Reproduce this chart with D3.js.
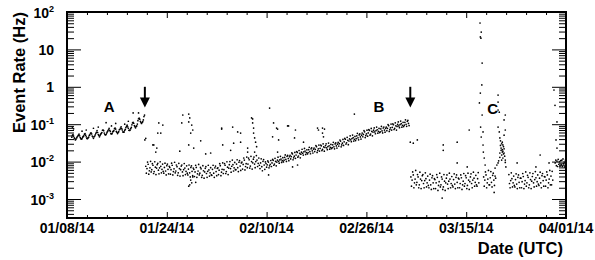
<!DOCTYPE html>
<html>
<head>
<meta charset="utf-8">
<script src="https://cdn.jsdelivr.net/npm/d3@7/dist/d3.min.js"></script>
<style>
  html, body { margin: 0; padding: 0; background: #fff; }
  svg { display: block; font-family: "Liberation Sans", Arial, Helvetica, sans-serif; font-weight: bold; }
</style>
</head>
<body>
<div id="chart"></div>
<script>
// time axis runs from 01/08/14 to 04/01/14 (UTC), days counted from the start
const START = Date.UTC(2014, 0, 8);
const END = Date.UTC(2014, 3, 1);
const STEP = 0.1; // days between samples in the continuous runs

const xTickLabels = ["01/08/14", "01/24/14", "02/10/14", "02/26/14", "03/15/14", "04/01/14"];
const yTickValues = [1e-3, 1e-2, 1e-1, 1, 10, 100];
const yTickLabels = ["10^-3", "10^-2", "10^-1", "1", "10", "10^2"];

// continuous runs: first day, then rates in Hz every STEP days
const bandAStart = 0.8;
const bandA = [
  0.045,0.050,0.053,0.048,0.043,0.041,0.038,0.040,0.043,0.046,
  0.048,0.051,0.054,0.049,0.044,0.041,0.040,0.041,0.045,0.047,
  0.049,0.054,0.056,0.051,0.046,0.042,0.041,0.043,0.045,0.050,
  0.052,0.057,0.059,0.055,0.048,0.046,0.042,0.046,0.048,0.052,
  0.057,0.061,0.067,0.060,0.053,0.050,0.046,0.050,0.054,0.057,
  0.060,0.069,0.070,0.067,0.058,0.053,0.052,0.053,0.058,0.062,
  0.066,0.071,0.077,0.069,0.064,0.056,0.055,0.056,0.062,0.065,
  0.067,0.076,0.079,0.074,0.064,0.061,0.056,0.060,0.063,0.071,
  0.073,0.079,0.085,0.076,0.070,0.062,0.061,0.062,0.069,0.073,
  0.081,0.088,0.094,0.085,0.078,0.069,0.068,0.070,0.076,0.082,
  0.096,0.108,0.112,0.106,0.092,0.086,0.080,0.087,0.090,0.101,
  0.124,0.140,0.145,0.136,0.119,0.111,0.105,0.112,0.117,0.130,
  0.160,0.175
];

const bandMidStart = 13.1;
const bandMid = [
  0.0075,0.0049,0.0065,0.0097,0.0085,0.0046,0.0057,0.0068,0.0102,0.0053,
  0.0061,0.0088,0.008,0.0048,0.0054,0.0099,0.0071,0.0045,0.0067,0.0083,
  0.009,0.0059,0.0047,0.0068,0.0099,0.0075,0.005,0.0062,0.0086,0.0055,
  0.0049,0.007,0.0091,0.0056,0.0044,0.0078,0.0086,0.0062,0.0047,0.0075,
  0.007,0.0046,0.0061,0.0091,0.008,0.0044,0.0054,0.0064,0.0096,0.005,
  0.0056,0.0081,0.0073,0.0043,0.005,0.009,0.0065,0.0041,0.0061,0.0076,
  0.0081,0.0053,0.0042,0.0061,0.0089,0.0067,0.0045,0.0055,0.0077,0.0049,
  0.0044,0.0063,0.0081,0.005,0.0039,0.007,0.0077,0.0055,0.0042,0.0067,
  0.0062,0.004,0.0053,0.008,0.007,0.0038,0.0047,0.0056,0.0084,0.0044,
  0.0049,0.007,0.0064,0.0038,0.0043,0.0078,0.0057,0.0036,0.0053,0.0066,
  0.0073,0.0048,0.0038,0.0055,0.008,0.006,0.0041,0.005,0.0069,0.0044,
  0.0043,0.0062,0.008,0.0049,0.0038,0.0068,0.0076,0.0054,0.0042,0.0066,
  0.0068,0.0045,0.0059,0.0088,0.0078,0.0042,0.0052,0.0062,0.0093,0.0048,
  0.0061,0.0088,0.008,0.0048,0.0054,0.0099,0.0071,0.0045,0.0067,0.0083,
  0.01,0.0065,0.0052,0.0075,0.011,0.0083,0.0056,0.0068,0.0095,0.0061,
  0.0061,0.0086,0.0112,0.0069,0.0054,0.0096,0.0106,0.0076,0.0058,0.0092,
  0.0097,0.0063,0.0084,0.0125,0.011,0.006,0.0074,0.0088,0.0132,0.0069,
  0.0086,0.0124,0.0112,0.0067,0.0076,0.0138,0.01,0.0063,0.0093,0.0116,
  0.0132,0.0086,0.0069,0.01,0.0145,0.011,0.0074,0.009,0.0125,0.008,
  0.0065,0.0092,0.0119,0.0073,0.0057,0.0102,0.0113,0.0081,0.0062,0.0098,
  0.0089,0.0071,0.0082,0.0104,0.0097,0.0068,0.0077,0.0085,0.0107,0.0074,
  0.0092,0.0114,0.0108,0.008,0.0086,0.0122,0.0101,0.0077,0.0097,0.011,
  0.0131,0.0102,0.0091,0.0111,0.0138,0.0117,0.0095,0.0106,0.0127,0.0098,
  0.0109,0.013,0.0151,0.0115,0.0101,0.0138,0.0146,0.0121,0.0106,0.0135,
  0.0147,0.0118,0.0136,0.0171,0.016,0.0112,0.0126,0.014,0.0176,0.0122,
  0.015,0.0186,0.0176,0.0131,0.0141,0.0198,0.0165,0.0126,0.0158,0.0179,
  0.0214,0.0167,0.0149,0.0182,0.0225,0.0191,0.0155,0.0173,0.0207,0.016,
  0.0174,0.0208,0.0242,0.0184,0.0162,0.022,0.0234,0.0194,0.017,0.0216,
  0.0231,0.0185,0.0213,0.0268,0.0251,0.0176,0.0198,0.022,0.0277,0.0191,
  0.0226,0.0278,0.0264,0.0197,0.0211,0.0298,0.0247,0.019,0.0238,0.0269,
  0.0298,0.0233,0.0208,0.0253,0.0313,0.0265,0.0215,0.024,0.0288,0.0223,
  0.0235,0.0281,0.0327,0.0248,0.0219,0.0297,0.0316,0.0262,0.023,0.0292,
  0.0326,0.026,0.0301,0.0378,0.0353,0.0248,0.0279,0.031,0.0391,0.027,
  0.0338,0.0418,0.0396,0.0295,0.0317,0.0446,0.0371,0.0284,0.0356,0.0403,
  0.0488,0.0381,0.034,0.0414,0.0513,0.0435,0.0353,0.0394,0.0472,0.0365,
  0.0409,0.0489,0.0569,0.0432,0.0381,0.0517,0.055,0.0456,0.04,0.0508,
  0.0578,0.0462,0.0534,0.0671,0.0627,0.044,0.0495,0.055,0.0693,0.0479,
  0.0583,0.0719,0.0682,0.0508,0.0546,0.0769,0.0639,0.049,0.0614,0.0694,
  0.0797,0.0623,0.0556,0.0677,0.0838,0.071,0.0576,0.0643,0.0771,0.0596,
  0.0626,0.0749,0.0871,0.0662,0.0583,0.0792,0.0842,0.0698,0.0612,0.0778,
  0.084,0.0672,0.0776,0.0976,0.0912,0.064,0.072,0.08,0.101,0.0696,
  0.0827,0.102,0.0968,0.0722,0.0774,0.109,0.0906,0.0695,0.0871,0.0986,
  0.115,0.0902,0.0805,0.098,0.121,0.103,0.0834,0.0931,0.112,0.0863,
  0.094,0.112,0.131,0.0994,0.0875,0.119,0.126,0.105,0.0918
];

const bandPostBStart = 57.2;
const bandPostB = [
  0.0039,0.0022,0.0032,0.0053,0.0044,0.002,0.0027,0.0034,0.0058,0.0024,
  0.0028,0.0045,0.0039,0.002,0.0024,0.0052,0.0034,0.0019,0.0031,0.0042,
  0.0045,0.0026,0.002,0.0031,0.005,0.0035,0.0021,0.0027,0.0041,0.0023,
  0.002,0.0032,0.0046,0.0024,0.0018,0.0037,0.0042,0.0027,0.0019,0.0035,
  0.0033,0.0019,0.0027,0.0045,0.0038,0.0017,0.0023,0.0029,0.0049,0.0021,
  0.0024,0.0039,0.0034,0.0018,0.0021,0.0045,0.003,0.0017,0.0027,0.0036,
  0.0044,0.0025,0.0019,0.003,0.0049,0.0034,0.002,0.0026,0.004,0.0023,
  0.0021,0.0033,0.0047,0.0025,0.0019,0.0038,0.0044,0.0028,0.002,0.0036,
  0.0034,0.002,0.0026,0.0044,0.0037,0.0018,0.0024,0.003,0.0048,0.0022,
  0.0026,0.0042,0.0037,0.0019,0.0023,0.0049,0.0032,0.0018,0.0029,0.0039,
  0.0047,0.0026,0.002,0.0032,0.0052,0.0036,0.0022,0.0028,0.0043,0.0024,
  0.0022,0.0035,0.0051,0.0027
];

const bandPreCStart = 69.3;
const bandPreC = [
  0.0039,0.0022,0.0032,0.0053,0.0044,0.002,0.0027,0.0034,0.0058,0.0024,
  0.0024,0.0037,0.0054,0.0028,0.0021,0.0043,0.0049,0.0032,0.0023,0.0041,
  0.0036
];

const bandPostCStart = 73.5;
const bandPostC = [
  0.0045,0.0026,0.002,0.0031,0.005,0.0035,0.0021,0.0027,0.0041,0.0023,
  0.0021,0.0033,0.0047,0.0025,0.0019,0.0038,0.0044,0.0028,0.002,0.0036,
  0.0036,0.002,0.0029,0.0048,0.004,0.0019,0.0025,0.0031,0.0053,0.0022,
  0.0027,0.0043,0.0038,0.002,0.0024,0.005,0.0033,0.0019,0.003,0.004,
  0.0048,0.0027,0.0021,0.0033,0.0054,0.0037,0.0022,0.0029,0.0044,0.0025,
  0.0023,0.0036,0.0052,0.0027,0.002,0.0042,0.0048,0.0031,0.0022,0.004,
  0.0039,0.0022,0.0032,0.0053,0.0044,0.002,0.0027,0.0034,0.0058,0.0024,
  0.0041,0.0024,0.0055,0.0032
];

const bandEndStart = 81.2;
const bandEnd = [
  0.0092,0.011,0.0078,0.0103,0.0074,0.0115,0.0085,0.0099,0.0075,0.0106,
  0.0083,0.0109,0.0074,0.0118,0.0087,0.0097,0.0072,0.011
];

// isolated points: [day, rate in Hz]
const spikePoints = [
  [68.7, 50.8], [68.9, 29], [68.75, 21.5], [68.85, 20], [69.05, 4.3], [69.0, 1.12],
  [68.75, 0.68], [68.6, 0.37], [69.05, 0.176], [68.8, 0.084], [68.9, 0.0455],
  [69.2, 0.062], [69.2, 0.0278], [69.25, 0.018], [69.4, 0.0125], [69.55, 0.0081]
];

const bumpCPoints = [
  [71.7, 0.6], [71.7, 0.39], [71.7, 0.24], [71.9, 0.21], [72.9, 0.176], [72.7, 0.13],
  [71.7, 0.084], [71.9, 0.062], [72.9, 0.07], [72.7, 0.051], [72.0, 0.043], [72.4, 0.033],
  [72.5, 0.028], [72.2, 0.023], [72.4, 0.018], [72.7, 0.017], [72.0, 0.013], [72.5, 0.0125],
  [72.9, 0.011], [71.7, 0.0092], [71.5, 0.0081], [71.2, 0.0067], [72.1, 0.036], [72.3, 0.03],
  [72.6, 0.025], [72.2, 0.02], [72.4, 0.021], [72.6, 0.016], [72.3, 0.015], [72.8, 0.014],
  [72.1, 0.027], [72.5, 0.019], [72.7, 0.022], [72.0, 0.017], [72.9, 0.0095], [72.3, 0.011],
  [71.8, 0.0105], [73.0, 0.0072]
];

const strayPoints = [
  [0.9, 0.084], [1.1, 0.075], [2.5, 0.065], [3.2, 0.07], [4.4, 0.078], [5.2, 0.084],
  [6.5, 0.11], [7.4, 0.09], [8.1, 0.105], [9.6, 0.1], [10.2, 0.12], [11.0, 0.2], [11.9, 0.2],
  [12.95, 0.038], [13.1, 0.042], [14.28, 0.028], [14.44, 0.028], [14.77, 0.018], [14.94, 0.023],
  [15.1, 0.058], [15.27, 0.108], [15.6, 0.058], [15.94, 0.095],
  [18.76, 0.019], [19.09, 0.108], [19.26, 0.176], [20.25, 0.187], [20.25, 0.115], [20.42, 0.147],
  [20.58, 0.058], [20.75, 0.095], [20.92, 0.07], [20.25, 0.028], [21.08, 0.023], [22.24, 0.036],
  [20.58, 0.0032], [20.25, 0.0022], [21.41, 0.0028], [20.92, 0.0039], [20.75, 0.0027], [20.42, 0.0024],
  [23.07, 0.016], [23.9, 0.017], [25.73, 0.074], [25.73, 0.079], [25.9, 0.028], [27.22, 0.02],
  [27.56, 0.084], [27.72, 0.031], [28.39, 0.062], [28.88, 0.058], [28.88, 0.033],
  [30.05, 0.023], [30.05, 0.018], [30.7, 0.147], [30.88, 0.138], [30.88, 0.108], [31.04, 0.079],
  [31.04, 0.058], [31.21, 0.043], [31.37, 0.033], [31.54, 0.025], [31.21, 0.018],
  [33.53, 0.0044], [33.7, 0.27], [34.2, 0.046], [34.36, 0.108], [34.86, 0.079], [35.03, 0.074],
  [35.2, 0.038], [35.03, 0.018], [36.69, 0.09], [36.85, 0.09], [37.52, 0.0072], [37.85, 0.043],
  [38.0, 0.07], [38.35, 0.0081], [39.34, 0.033], [41.67, 0.079], [41.83, 0.07], [42.5, 0.079],
  [42.5, 0.058], [42.66, 0.046], [42.83, 0.074], [47.8, 0.187],
  [57.1, 0.033], [57.6, 0.031], [58.27, 0.038], [62.4, 0.00106], [62.58, 0.028], [62.58, 0.02],
  [64.9, 0.033], [64.9, 0.0092], [66.57, 0.0072], [66.9, 0.07], [71.05, 0.0015],
  [74.87, 0.0092], [78.0, 0.0072], [78.7, 0.015], [80.18, 0.0092],
  [81.0, 0.82], [81.17, 0.32], [81.5, 0.115], [81.34, 0.038], [81.5, 0.023]
];

// arrows mark the two jumps: [day, top rate, tip rate]
const arrows = [[12.95, 1.0, 0.28], [57.1, 1.0, 0.28]];
// period labels: [text, day, baseline rate]
const periodLabels = [["A", 7.0, 0.21], ["B", 51.9, 0.21], ["C", 70.8, 0.19]];

const width = 595;
const height = 260;
const frame = { left: 67, right: 566, top: 12, bottom: 218 };

const dayToDate = (d) => new Date(START + d * 864e5);

function runPoints(start, rates) {
  return rates.map((rate, i) => ({ date: dayToDate(start + i * STEP), rate }));
}

const points = [
  ...runPoints(bandAStart, bandA),
  ...runPoints(bandMidStart, bandMid),
  ...runPoints(bandPostBStart, bandPostB),
  ...runPoints(bandPreCStart, bandPreC),
  ...runPoints(bandPostCStart, bandPostC),
  ...runPoints(bandEndStart, bandEnd),
  ...[...spikePoints, ...bumpCPoints, ...strayPoints].map(([d, rate]) => ({ date: dayToDate(d), rate }))
];

const x = d3.scaleUtc()
  .domain([new Date(START), new Date(END)])
  .range([frame.left, frame.right]);

const y = d3.scaleLog()
  .domain([Math.pow(10, -3.508), 100])
  .range([frame.bottom, frame.top]);

const svg = d3.select("#chart")
  .append("svg")
  .attr("width", width)
  .attr("height", height);

svg.append("rect").attr("width", width).attr("height", height).attr("fill", "#fff");

// data points
svg.append("g")
  .selectAll("circle")
  .data(points)
  .enter()
  .append("circle")
  .attr("cx", (d) => x(d.date))
  .attr("cy", (d) => y(d.rate))
  .attr("r", 0.85)
  .attr("fill", "#000");

// ticks (all pointing into the frame, mirrored on top and right)
const span = END - START;
const majorX = d3.range(6).map((i) => new Date(START + (i * span) / 5));
const minorX = d3.range(26).filter((i) => i % 5 !== 0).map((i) => new Date(START + (i * span) / 25));
const [yMin] = y.domain();
const minorY = [];
for (let e = -4; e <= 1; e++) {
  for (let m = 2; m <= 9; m++) {
    const v = m * Math.pow(10, e);
    if (v >= yMin && v <= 100) minorY.push(v);
  }
}

function drawTicks(axis, transform, values, size) {
  svg.append("g")
    .attr("transform", transform)
    .call(axis.tickValues(values).tickSize(size).tickFormat(""))
    .call((g) => g.select(".domain").remove())
    .call((g) => g.selectAll("line").attr("stroke", "#000").attr("stroke-width", 1));
}

drawTicks(d3.axisBottom(x), `translate(0,${frame.bottom})`, majorX, -6);
drawTicks(d3.axisBottom(x), `translate(0,${frame.bottom})`, minorX, -3);
drawTicks(d3.axisTop(x), `translate(0,${frame.top})`, majorX, -6);
drawTicks(d3.axisTop(x), `translate(0,${frame.top})`, minorX, -3);
drawTicks(d3.axisLeft(y), `translate(${frame.left},0)`, yTickValues, -14);
drawTicks(d3.axisLeft(y), `translate(${frame.left},0)`, minorY, -7);
drawTicks(d3.axisRight(y), `translate(${frame.right},0)`, yTickValues, -14);
drawTicks(d3.axisRight(y), `translate(${frame.right},0)`, minorY, -7);

svg.append("rect")
  .attr("x", frame.left)
  .attr("y", frame.top)
  .attr("width", frame.right - frame.left)
  .attr("height", frame.bottom - frame.top)
  .attr("fill", "none")
  .attr("stroke", "#000")
  .attr("stroke-width", 2);

// x tick labels
svg.append("g")
  .selectAll("text")
  .data(majorX)
  .enter()
  .append("text")
  .attr("x", (d) => x(d))
  .attr("y", 233)
  .attr("text-anchor", "middle")
  .attr("font-size", 14)
  .text((d, i) => xTickLabels[i]);

// y tick labels with superscript exponents
const yLabels = svg.append("g")
  .selectAll("text")
  .data(yTickValues)
  .enter()
  .append("text")
  .attr("x", 54)
  .attr("y", (d) => y(d) + 5.5)
  .attr("text-anchor", "end")
  .attr("font-size", 14);

yLabels.each(function (d, i) {
  const [base, exp] = yTickLabels[i].split("^");
  const t = d3.select(this);
  t.append("tspan").text(base);
  if (exp) {
    t.append("tspan").attr("font-size", 9).attr("dy", -6).text(exp);
  }
});

// axis titles
svg.append("text")
  .attr("transform", `translate(25,${frame.top}) rotate(-90)`)
  .attr("text-anchor", "end")
  .attr("font-size", 16.5)
  .text("Event Rate (Hz)");

svg.append("text")
  .attr("x", 563)
  .attr("y", 254)
  .attr("text-anchor", "end")
  .attr("font-size", 16.5)
  .text("Date (UTC)");

// arrows
arrows.forEach(([d, top, tip]) => {
  const ax = x(dayToDate(d));
  const y0 = y(top);
  const y1 = y(tip);
  const headLen = 10;
  svg.append("line")
    .attr("x1", ax).attr("x2", ax)
    .attr("y1", y0).attr("y2", y1 - headLen + 1)
    .attr("stroke", "#000")
    .attr("stroke-width", 2);
  svg.append("path")
    .attr("d", `M${ax - 5},${y1 - headLen} L${ax + 5},${y1 - headLen} L${ax},${y1} Z`)
    .attr("fill", "#000");
});

// period labels
svg.append("g")
  .selectAll("text")
  .data(periodLabels)
  .enter()
  .append("text")
  .attr("x", (d) => x(dayToDate(d[1])))
  .attr("y", (d) => y(d[2]))
  .attr("text-anchor", "middle")
  .attr("font-size", 15)
  .text((d) => d[0]);
</script>
</body>
</html>
